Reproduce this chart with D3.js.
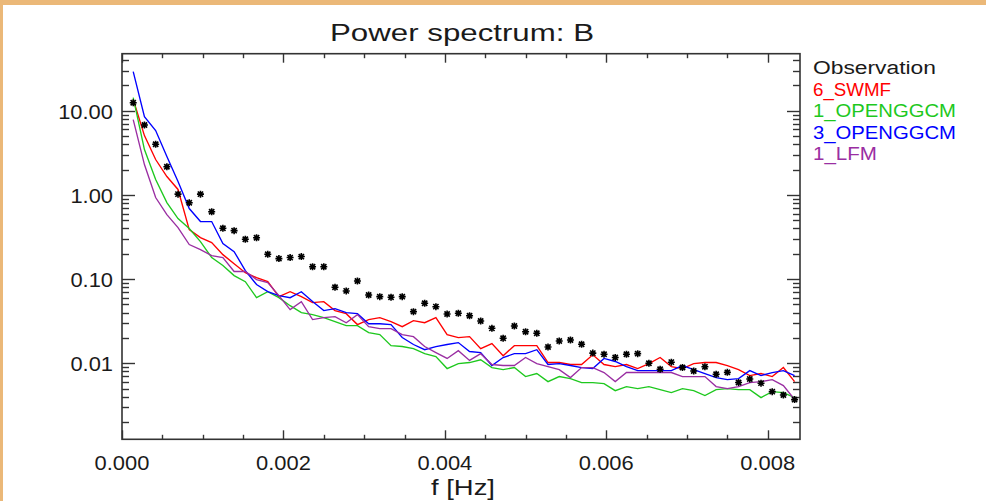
<!DOCTYPE html>
<html><head><meta charset="utf-8">
<script src="https://cdn.jsdelivr.net/npm/d3@7"></script>
<style>
html,body{margin:0;padding:0;background:#fff;}
svg{display:block;}
text{font-family:"Liberation Sans",Arial,sans-serif;fill:#1a1a1a;}
</style></head><body>
<svg id="chart" width="986" height="501"></svg>
<script>
// ---- data ----
const freqs = [0.000139,0.000278,0.000417,0.000556,0.000694,0.000833,0.000972,0.001111,0.00125,0.001389,
0.001528,0.001667,0.001806,0.001944,0.002083,0.002222,0.002361,0.0025,0.002639,0.002778,
0.002917,0.003056,0.003194,0.003333,0.003472,0.003611,0.00375,0.003889,0.004028,0.004167,
0.004306,0.004444,0.004583,0.004722,0.004861,0.005,0.005139,0.005278,0.005417,0.005556,
0.005694,0.005833,0.005972,0.006111,0.00625,0.006389,0.006528,0.006667,0.006806,0.006944,
0.007083,0.007222,0.007361,0.0075,0.007639,0.007778,0.007917,0.008056,0.008194,0.008333];
const observation = [12.4,6.76,3.99,2.16,1.02,0.807,1.02,0.63,0.401,0.376,
0.297,0.310,0.197,0.175,0.180,0.185,0.140,0.140,0.080,0.0723,
0.0949,0.0647,0.0618,0.0608,0.0618,0.0410,0.0516,0.0470,0.0385,0.0393,
0.0367,0.0318,0.0260,0.0198,0.0277,0.0237,0.0227,0.0156,0.0184,0.0189,
0.0168,0.0132,0.0128,0.0117,0.0128,0.0130,0.0100,0.0085,0.0103,0.0089,
0.0081,0.0091,0.0074,0.0078,0.0059,0.0065,0.0058,0.0046,0.0042,0.0037];
const swmf6 = [13.55,5.06,2.63,1.65,1.16,0.387,0.311,0.271,0.195,0.152,
0.119,0.104,0.0931,0.0618,0.0708,0.0618,0.0525,0.0540,0.0422,0.0388,
0.0288,0.0330,0.0348,0.0312,0.0272,0.0321,0.0303,0.0348,0.0219,0.0202,
0.0207,0.0149,0.0171,0.0123,0.0162,0.0162,0.0162,0.0102,0.0102,0.00966,
0.00966,0.0126,0.00966,0.00914,0.00966,0.00865,0.00991,0.0117,0.00914,0.00865,
0.00991,0.0102,0.0102,0.00940,0.00841,0.00714,0.00755,0.00695,0.00889,0.00605];
const openggcm1 = [14.3,3.45,1.52,0.810,0.523,0.398,0.279,0.180,0.145,0.110,
0.0931,0.0601,0.0708,0.0601,0.0483,0.0399,0.0378,0.0348,0.0312,0.0280,
0.0280,0.0231,0.0219,0.0162,0.0158,0.0149,0.0130,0.0120,0.00865,0.00991,
0.0102,0.0110,0.00889,0.00841,0.00889,0.00695,0.00755,0.00605,0.00695,0.00658,
0.00589,0.00589,0.00573,0.00473,0.00528,0.00500,0.00528,0.00486,0.00448,0.00500,
0.00473,0.00413,0.00486,0.00500,0.00486,0.00486,0.00391,0.00460,0.00448,0.00391];
const openggcm3 = [29.1,8.51,5.80,2.85,1.44,0.688,0.482,0.482,0.264,0.212,
0.126,0.0861,0.0708,0.0635,0.0601,0.0708,0.0540,0.0422,0.0446,0.0399,
0.0388,0.0295,0.0295,0.0288,0.0202,0.0167,0.0145,0.0158,0.0167,0.0176,
0.0138,0.0134,0.00940,0.0117,0.0130,0.0130,0.0145,0.00966,0.00991,0.00940,
0.00889,0.00865,0.0114,0.0105,0.00914,0.00818,0.00818,0.00818,0.00818,0.00940,
0.00841,0.00755,0.00676,0.00640,0.00658,0.00818,0.00714,0.00776,0.00818,0.00714];
const lfm1 = [7.84,2.29,0.929,0.583,0.409,0.257,0.224,0.190,0.180,0.123,
0.123,0.0986,0.0906,0.0635,0.0434,0.0540,0.0330,0.0348,0.0358,0.0303,
0.0378,0.0272,0.0258,0.0258,0.0219,0.0207,0.0158,0.0134,0.0114,0.0141,
0.0108,0.0130,0.00966,0.00940,0.00940,0.0117,0.00991,0.00914,0.00841,0.00676,
0.00889,0.00889,0.00776,0.00605,0.00776,0.00776,0.00776,0.00776,0.00776,0.00695,
0.00695,0.00695,0.00528,0.00500,0.00528,0.00589,0.00605,0.00640,0.00543,0.00371];
const seriesNames = ["6_SWMF","1_OPENGGCM","3_OPENGGCM","1_LFM"];
const seriesColors = ["#ff0000","#1ec81e","#0000ff","#9a2ea2"];
const seriesValues = [swmf6, openggcm1, openggcm3, lfm1];
const xTickLabels = ["0.000","0.002","0.004","0.006","0.008"];
const yTickLabels = ["10.00","1.00","0.10","0.01"];
const xDomain = [0, 0.0084];
const yDomain = [0.00125, 47.5];

// ---- drawing ----
const svg = d3.select("#chart");
const L = 122, R = 800, T = 53.7, B = 439.3;
const x = d3.scaleLinear().domain(xDomain).range([L, R]);
const y = d3.scaleLog().domain(yDomain).range([B, T]);

// orange frame
svg.append("rect").attr("x",0).attr("y",0).attr("width",986).attr("height",501).attr("fill","#fff");
svg.append("rect").attr("x",0).attr("y",0).attr("width",986).attr("height",5).attr("fill","#ebb878");
svg.append("rect").attr("x",0).attr("y",0).attr("width",3).attr("height",501).attr("fill","#ebb878");

const axisColor = "#333";
const gAx = svg.append("g");
// x ticks (bottom & top, inward)
const xMajor = xTickLabels.map(Number);
const xMinor = d3.range(0, 0.00841, 0.0005).filter(v => !xMajor.some(m => Math.abs(m - v) < 1e-9));
function xTicks(vals, len) {
  vals.forEach(v => {
    const px = Math.round(x(v)) + 0.5;
    gAx.append("line").attr("x1",px).attr("x2",px).attr("y1",B).attr("y2",B-len).attr("stroke",axisColor).attr("stroke-width",1.4);
    gAx.append("line").attr("x1",px).attr("x2",px).attr("y1",T).attr("y2",T+len).attr("stroke",axisColor).attr("stroke-width",1.4);
  });
}
xTicks(xMajor, 9);
xTicks(xMinor, 4.5);
// y ticks (left & right, inward)
const yMajor = yTickLabels.map(Number);
const yMinor = [];
for (let e = -3; e <= 1; e++) for (let m = 2; m <= 9; m++) {
  const v = m * Math.pow(10, e);
  if (v > yDomain[0] && v < yDomain[1]) yMinor.push(v);
}
function yTicks(vals, len) {
  vals.forEach(v => {
    const py = Math.round(y(v)) + 0.5;
    gAx.append("line").attr("x1",L).attr("x2",L+len).attr("y1",py).attr("y2",py).attr("stroke",axisColor).attr("stroke-width",1.4);
    gAx.append("line").attr("x1",R).attr("x2",R-len).attr("y1",py).attr("y2",py).attr("stroke",axisColor).attr("stroke-width",1.4);
  });
}
yTicks(yMajor, 13);
yTicks(yMinor, 7);

// lines
const line = d3.line().x((d,i) => x(freqs[i])).y(d => y(d));
seriesValues.forEach((vals, si) => {
  svg.append("path").datum(vals).attr("d", line).attr("fill","none")
    .attr("stroke", seriesColors[si]).attr("stroke-width",1.35).attr("stroke-linejoin","miter");
});

// observation asterisks
const r = 3.5;
const star = `M${-r},0L${r},0M0,${-r}L0,${r}M${-r*0.75},${-r*0.75}L${r*0.75},${r*0.75}M${-r*0.75},${r*0.75}L${r*0.75},${-r*0.75}`;
svg.append("g").selectAll("path").data(observation).join("path")
  .attr("transform",(d,i)=>`translate(${x(freqs[i])},${y(d)})`)
  .attr("d", star).attr("stroke","#000").attr("stroke-width",1.6).attr("fill","none");

// box
svg.append("rect").attr("x",L).attr("y",T).attr("width",R-L).attr("height",B-T)
  .attr("fill","none").attr("stroke",axisColor).attr("stroke-width",1.6);

// tick labels (wide, thin glyphs like the original vector font)
function labelWidth(t) { return t.replace(/\./g,"").length * 12.2 + (t.split(".").length - 1) * 6; }
xTickLabels.forEach(t => {
  svg.append("text").attr("x", x(+t)).attr("y", 470).attr("text-anchor","middle")
    .attr("font-size",21).attr("textLength", labelWidth(t)).attr("lengthAdjust","spacingAndGlyphs").text(t);
});
yTickLabels.forEach(t => {
  svg.append("text").attr("x", 113).attr("y", y(+t) + 8).attr("text-anchor","end")
    .attr("font-size",21).attr("textLength", labelWidth(t)).attr("lengthAdjust","spacingAndGlyphs").text(t);
});

// titles
svg.append("text").attr("x",462).attr("y",41).attr("text-anchor","middle")
  .attr("font-size",24).attr("textLength",264).attr("lengthAdjust","spacingAndGlyphs").text("Power spectrum: B");
svg.append("text").attr("x",463).attr("y",495).attr("text-anchor","middle")
  .attr("font-size",22).attr("textLength",64).attr("lengthAdjust","spacingAndGlyphs").text("f [Hz]");

// legend
const legNames = ["Observation"].concat(seriesNames);
const legColors = ["#1a1a1a"].concat(seriesColors);
const legWidths = [123, 78, 143, 143, 64];
legNames.forEach((n, i) => {
  svg.append("text").attr("x",813).attr("y",74 + i*21.6).attr("font-size",18)
    .attr("textLength",legWidths[i]).attr("lengthAdjust","spacingAndGlyphs")
    .style("fill",legColors[i]).text(n);
});
</script>
</body></html>
